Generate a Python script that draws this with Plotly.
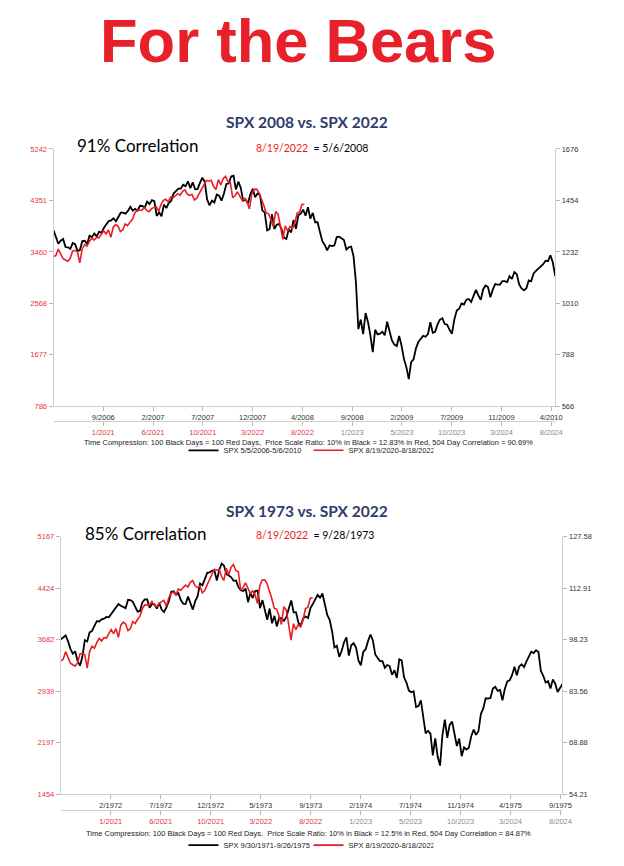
import numpy as np
import plotly.graph_objects as go

# ---------------- DATA ----------------
# Red series: SPX 8/19/2020 - 8/18/2022 (weekly closes), 504 trading days
red_days_total = 504
red_values = [3375, 3397, 3508, 3427, 3341, 3319, 3298, 3348, 3477, 3484, 3465, 3270, 3510, 3585, 3558, 3638,
              3699, 3663, 3709, 3703, 3756,
              3825, 3768, 3841, 3714, 3887, 3934, 3907, 3811, 3842, 3943, 3913, 3975, 4020, 4129, 4185, 4180,
              4181, 4233, 4174, 4156, 4204, 4230, 4247, 4166, 4281, 4352, 4370, 4327, 4412, 4395, 4437, 4468,
              4442, 4509, 4535, 4459, 4433, 4455, 4357, 4391, 4471, 4545, 4605, 4697, 4683, 4698, 4595, 4538,
              4712, 4620, 4726, 4766,
              4677, 4663, 4398, 4432, 4501, 4419, 4349, 4385, 4329, 4204, 4463, 4543, 4546, 4488, 4393, 4272,
              4132, 4123, 4024, 3901, 4158, 4109, 3901, 3675, 3912, 3825, 3899, 3863, 3962, 4130, 4145, 4280, 4284]

# Black series chart 1: SPX 5/5/2006 - 5/6/2010 (weekly closes)
black08_days_total = 1008
black08_values = [
    1325, 1291, 1267, 1280,
    1288, 1253, 1252, 1245, 1270,
    1265, 1236, 1240, 1279,
    1280, 1266, 1302, 1295,
    1311, 1299, 1319, 1314, 1336,
    1349, 1365, 1368, 1377,
    1364, 1380, 1401, 1401,
    1397, 1409, 1427, 1410, 1418,
    1410, 1431, 1430, 1423,
    1449, 1438, 1455, 1451,
    1387, 1402, 1386, 1436, 1421,
    1443, 1452, 1484, 1494,
    1505, 1505, 1522, 1515,
    1536, 1507, 1532, 1502, 1503,
    1530, 1552, 1534, 1458,
    1433, 1453, 1445, 1479, 1474,
    1453, 1484, 1525, 1527,
    1557, 1561, 1501, 1535,
    1509, 1453, 1458, 1441, 1481,
    1504, 1468, 1484, 1478,
    1411, 1401, 1325, 1330,
    1395, 1331, 1349, 1353, 1330,
    1294, 1288, 1330, 1316,
    1370, 1332, 1390, 1397,
    1414, 1388, 1425, 1375, 1400,
    1360, 1360, 1318, 1278,
    1262, 1239, 1260, 1257,
    1260, 1296, 1298, 1292, 1283,
    1242, 1252, 1255, 1213,
    1099, 899, 940, 877, 968,
    930, 873, 800, 896,
    876, 879, 887, 872,
    931, 890, 850, 832, 826,
    869, 827, 770, 735,
    683, 756, 768, 816,
    843, 857, 870, 866,
    877, 929, 883, 887, 919,
    940, 946, 921, 918,
    896, 879, 941, 979, 987,
    1010, 1005, 1026, 1029,
    1016, 1042, 1068, 1044,
    1025, 1071, 1087, 1080, 1036,
    1069, 1093, 1091, 1091,
    1106, 1106, 1102, 1127, 1115,
    1145, 1136, 1092, 1074,
    1066, 1075, 1109, 1105,
    1139, 1150, 1160, 1167,
    1179, 1194, 1192, 1217, 1187,
    1128]

# Black series chart 2: SPX 9/30/1971 - 9/26/1975 (weekly closes)
black73_days_total = 1004
black73_values = [
    98.3,
    98.9, 99.4, 97.8, 95.6, 94.2,
    94.9, 92.1, 90.8, 93.4,
    98.1, 97.7, 100.3, 100.7, 102.1,
    103.5, 103.4, 104.0, 104.2,
    104.7, 104.6, 105.6, 106.6,
    107.3, 108.4, 107.9, 107.5, 107.2,
    109.6, 109.5, 109.0, 107.7,
    106.2, 106.4, 108.9, 109.7,
    109.7, 107.3, 108.4, 108.3, 107.1,
    108.7, 106.8, 106.1, 107.4,
    109.2, 111.9, 112.0, 111.0,
    111.5, 109.5, 108.5, 108.4, 110.5,
    108.9, 106.8, 109.2, 110.6,
    114.2, 113.7, 115.5, 117.3,
    117.4, 117.9, 117.9, 115.1, 118.1,
    119.9, 119.3, 116.9, 116.5,
    116.0, 115.0, 115.1, 113.2,
    112.3, 112.1, 112.8, 108.9, 111.5,
    110.1, 112.1, 112.2, 107.2,
    109.5, 106.4, 103.9, 107.1,
    102.9, 105.0, 102.0, 104.5, 104.3,
    103.6, 104.7, 107.2, 109.4,
    106.0, 106.0, 103.0, 102.3, 104.3,
    104.8, 104.4, 107.2, 108.4,
    109.9, 111.0, 110.2, 111.4,
    108.3, 105.3, 103.9, 100.7, 96.0,
    96.5, 93.3, 95.0, 97.5,
    98.9, 93.7, 96.6, 97.2,
    96.0, 92.3, 90.9, 94.7,
    95.5, 97.8, 99.7, 98.0, 94.0,
    93.0, 92.1, 92.1, 90.2,
    91.0, 90.7, 88.2, 89.5, 87.3,
    92.6, 92.3, 87.5, 86.0,
    83.7, 83.2, 83.5, 79.0,
    79.3, 80.9, 76.3, 71.5, 72.2,
    71.4, 65.2, 70.1, 64.9,
    62.3, 71.1, 75.4, 70.2,
    73.9, 74.9, 71.2, 67.9, 70.0,
    65.0, 67.5, 66.9, 67.4,
    70.7, 72.6, 71.1, 72.1, 77.0,
    78.6, 81.5, 81.4, 81.6,
    84.3, 84.8, 83.6, 83.9,
    80.9, 84.2, 86.3, 86.6,
    88.1, 90.5, 88.1, 90.6, 91.2,
    90.4, 92.0, 93.6, 94.8,
    94.4, 95.2, 94.7, 89.3,
    87.9, 86.0, 86.4, 84.3, 86.9,
    85.6, 83.3, 84.3, 85.6]

# Axis ticks
day_ticks = [100, 200, 300, 400, 500, 600, 700, 800, 900, 1000]
black08_dates = ["9/2006", "2/2007", "7/2007", "12/2007", "4/2008", "9/2008", "2/2009", "7/2009", "11/2009", "4/2010"]
black73_dates = ["2/1972", "7/1972", "12/1972", "5/1973", "9/1973", "2/1974", "7/1974", "11/1974", "4/1975", "9/1975"]
red_dates = ["1/2021", "6/2021", "10/2021", "3/2022", "8/2022", "1/2023", "5/2023", "10/2023", "3/2024", "8/2024"]
red_dates_past = 5  # first five fall inside the red series (red text), the rest are grey

left_ticks_1 = [786, 1677, 2568, 3460, 4351, 5242]
right_ticks_1 = [566, 788, 1010, 1232, 1454, 1676]
left_ticks_2 = [1454, 2197, 2939, 3682, 4424, 5167]
right_ticks_2 = [54.21, 68.88, 83.56, 98.23, 112.91, 127.58]

# ---------------- STYLE ----------------
W, H = 624, 866
RED = "#ea1c24"
RED_TXT = "#e8343c"
NAVY = "#2e3c6c"
AXC = "#cfcfcf"
TF = "Liberation Sans, Arial, sans-serif"
CAL = "Lato, Open Sans, sans-serif"


def px(x):
    return x / W


def py(y):
    return 1 - y / H


red_ticktext = [f"<span style='color:{RED_TXT}'>{d}</span>" if i < red_dates_past else d
                for i, d in enumerate(red_dates)]

fig = go.Figure()

# chart 1: black on (x, y[right]); red on overlay (x2, y2[left])
fig.add_trace(go.Scatter(x=np.linspace(0, black08_days_total, len(black08_values)), y=black08_values,
                         mode="lines", line=dict(color="black", width=1.8),
                         name="SPX 5/5/2006-5/6/2010", xaxis="x", yaxis="y", legend="legend"))
fig.add_trace(go.Scatter(x=np.linspace(0, red_days_total, len(red_values)), y=red_values,
                         mode="lines", line=dict(color=RED, width=1.6),
                         name="SPX 8/19/2020-8/18/2022", xaxis="x2", yaxis="y2", legend="legend"))
# chart 2: black on (x3, y3[right]); red on overlay (x4, y4[left])
fig.add_trace(go.Scatter(x=np.linspace(0, black73_days_total, len(black73_values)), y=black73_values,
                         mode="lines", line=dict(color="black", width=1.8),
                         name="SPX 9/30/1971-9/26/1975", xaxis="x3", yaxis="y3", legend="legend2"))
fig.add_trace(go.Scatter(x=np.linspace(0, red_days_total, len(red_values)), y=red_values,
                         mode="lines", line=dict(color=RED, width=1.6),
                         name="SPX 8/19/2020-8/18/2022", xaxis="x4", yaxis="y4", legend="legend2"))

common_axis = dict(showgrid=False, zeroline=False, showline=True, linecolor=AXC, linewidth=1,
                   ticks="outside", ticklen=4, tickcolor="#b8b8b8", tickwidth=1)
tick_black = dict(family=TF, size=7.5, color="#333")
tick_red = dict(family=TF, size=7.5, color=RED_TXT)
tick_grey = dict(family=TF, size=7.5, color="#8a8a8a")

d1x = [px(54.3), px(563.3)]
d1y = [py(406.5), py(146.5)]
d2x = [px(61.7), px(570.7)]
d2y = [py(798.3), py(538.3)]

fig.update_layout(
    xaxis=dict(domain=d1x, anchor="y", range=[0, black08_days_total], tickvals=day_ticks,
               ticktext=black08_dates, tickfont=tick_black, **common_axis),
    yaxis=dict(domain=d1y, anchor="x", side="right", range=[right_ticks_1[0], right_ticks_1[-1]],
               tickvals=right_ticks_1, ticktext=[str(v) for v in right_ticks_1], tickfont=tick_black,
               **common_axis),
    xaxis2=dict(domain=d1x, overlaying="x", anchor="free", position=py(421), side="bottom",
                range=[0, black08_days_total], tickvals=day_ticks, ticktext=red_ticktext, tickfont=tick_grey,
                **common_axis),
    yaxis2=dict(domain=d1y, overlaying="y", anchor="x2", side="left", range=[left_ticks_1[0], left_ticks_1[-1]],
                tickvals=left_ticks_1, ticktext=[str(v) for v in left_ticks_1], tickfont=tick_red,
                **common_axis),
    xaxis3=dict(domain=d2x, anchor="y3", range=[0, black73_days_total], tickvals=day_ticks,
                ticktext=black73_dates, tickfont=tick_black, **common_axis),
    yaxis3=dict(domain=d2y, anchor="x3", side="right", range=[right_ticks_2[0], right_ticks_2[-1]],
                tickvals=right_ticks_2, ticktext=[f"{v:.2f}" for v in right_ticks_2], tickfont=tick_black,
                **common_axis),
    xaxis4=dict(domain=d2x, overlaying="x3", anchor="free", position=py(814), side="bottom",
                range=[0, black73_days_total], tickvals=day_ticks, ticktext=red_ticktext, tickfont=tick_grey,
                **common_axis),
    yaxis4=dict(domain=d2y, overlaying="y3", anchor="x4", side="left", range=[left_ticks_2[0], left_ticks_2[-1]],
                tickvals=left_ticks_2, ticktext=[str(v) for v in left_ticks_2], tickfont=tick_red,
                **common_axis),
    legend=dict(orientation="h", x=px(313), xanchor="center", y=py(451), yanchor="middle",
                font=dict(family=TF, size=7.5, color="#222"), bgcolor="rgba(0,0,0,0)", itemwidth=30,
                entrywidth=80, tracegroupgap=0),
    legend2=dict(orientation="h", x=px(313), xanchor="center", y=py(850), yanchor="middle",
                 font=dict(family=TF, size=7.5, color="#222"), bgcolor="rgba(0,0,0,0)", itemwidth=30,
                 entrywidth=80, tracegroupgap=0),
    width=W, height=H, margin=dict(l=0, r=0, t=0, b=0),
    paper_bgcolor="white", plot_bgcolor="white", showlegend=True,
)

ann = [
    dict(text="For the Bears", x=px(302), y=1, xanchor="center", yanchor="top",
         font=dict(family="Liberation Sans, Arial, sans-serif", size=61.5, color="#e8202a", weight="bold")),
    dict(text="SPX 2008 vs. SPX 2022", x=px(311), y=py(119), xanchor="center", yanchor="middle",
         font=dict(family=CAL, size=15.5, color=NAVY, weight="bold")),
    dict(text="91% Correlation", x=px(76), y=py(143), xanchor="left", yanchor="middle",
         font=dict(family=CAL, size=17, color="black")),
    dict(text=f"<span style='color:{RED}'>8/19/2022</span>  = 5/6/2008", x=px(258), y=py(146),
         xanchor="left", yanchor="middle", font=dict(family=CAL, size=10.5, color="black")),
    dict(text="Time Compression: 100 Black Days = 100 Red Days,  Price Scale Ratio: 10% in Black = 12.83% in Red, "
              "504 Day Correlation = 90.69%", x=px(313), y=py(443), xanchor="center", yanchor="middle",
         font=dict(family=TF, size=7.5, color="#222")),
    dict(text="SPX 1973 vs. SPX 2022", x=px(311), y=py(512), xanchor="center", yanchor="middle",
         font=dict(family=CAL, size=15.5, color=NAVY, weight="bold")),
    dict(text="85% Correlation", x=px(84), y=py(535), xanchor="left", yanchor="middle",
         font=dict(family=CAL, size=17, color="black")),
    dict(text=f"<span style='color:{RED}'>8/19/2022</span>  = 9/28/1973", x=px(258), y=py(537),
         xanchor="left", yanchor="middle", font=dict(family=CAL, size=10.5, color="black")),
    dict(text="Time Compression: 100 Black Days = 100 Red Days,  Price Scale Ratio: 10% in Black = 12.5% in Red, "
              "504 Day Correlation = 84.87%", x=px(313), y=py(838), xanchor="center", yanchor="middle",
         font=dict(family=TF, size=7.5, color="#222")),
]
for a in ann:
    a.update(xref="paper", yref="paper", showarrow=False)
fig.update_layout(annotations=ann)

fig.write_html("out.html", config={"displayModeBar": False},
               post_script="document.body.style.margin='0';")
